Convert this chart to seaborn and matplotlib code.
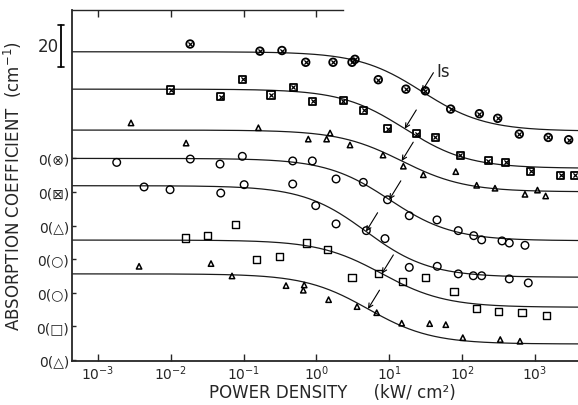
import numpy as np
import matplotlib
matplotlib.use("Agg")
import matplotlib.pyplot as plt
import matplotlib.transforms as mtransforms
from matplotlib.ticker import NullLocator
import seaborn as sns

sns.set_style("ticks")
plt.rcParams["font.family"] = ["DejaVu Sans"]

# pontos medidos, curva por curva (de cima para baixo)
# densidade de potência em kW/cm2, absorção em cm-1 (relativa ao próprio zero)
power_1 = [0.0185, 0.168, 0.337, 0.713, 1.69, 3.08, 3.38, 7.06, 16.9, 31.2, 69.5, 172, 307, 607, 1517, 2890]
alpha_1 = [54.5, 51.1, 51.4, 45.8, 45.8, 45.8, 47.2, 37.5, 33.0, 32.2, 23.5, 21.3, 19.1, 11.6, 10.0, 8.9]

power_2 = [0.0100, 0.0487, 0.0975, 0.238, 0.482, 0.889, 2.35, 4.43, 9.45, 23.8, 42.8, 94.8, 229, 396, 873, 2244, 3527]
alpha_2 = [48.6, 45.4, 53.8, 46.2, 49.9, 43.3, 43.5, 39.0, 30.1, 27.8, 26.0, 17.6, 14.9, 14.1, 9.9, 8.0, 8.0]

power_3 = [0.00286, 0.0163, 0.160, 0.774, 1.38, 1.54, 2.89, 8.20, 15.6, 29.3, 81.7, 158, 282, 727, 1079, 1397]
alpha_3 = [48.9, 39.3, 46.6, 41.2, 41.2, 44.1, 38.4, 33.6, 28.3, 24.2, 25.7, 19.2, 17.8, 14.9, 16.9, 14.1]

power_4 = [0.00182, 0.0186, 0.0476, 0.0963, 0.473, 0.879, 1.86, 4.40, 9.45, 18.8, 45.1, 88.4, 144, 185, 352, 443, 727]
alpha_4 = [46.1, 47.7, 45.3, 49.0, 46.8, 46.8, 38.2, 36.6, 28.3, 20.7, 18.7, 13.6, 11.2, 9.2, 8.7, 7.7, 6.6]

power_5 = [0.00432, 0.00982, 0.0487, 0.102, 0.473, 0.978, 1.86, 4.84, 8.73, 18.8, 45.5, 88.4, 142, 185, 443, 807]
alpha_5 = [50.4, 49.1, 47.5, 51.5, 51.8, 41.5, 32.8, 29.6, 25.8, 12.1, 12.6, 9.0, 8.1, 8.1, 6.6, 4.7]

power_6 = [0.0158, 0.0323, 0.0782, 0.152, 0.310, 0.736, 1.43, 3.08, 7.06, 15.3, 31.4, 77.2, 157, 313, 661, 1425]
alpha_6 = [42.1, 43.2, 48.4, 31.9, 33.4, 39.7, 36.7, 23.2, 25.3, 21.4, 23.3, 16.4, 8.4, 7.1, 6.5, 5.3]

power_7 = [0.00369, 0.0358, 0.0695, 0.383, 0.680, 0.661, 1.47, 3.61, 6.72, 14.8, 35.8, 59.6, 102, 333, 621]
alpha_7 = [44.6, 45.9, 40.0, 35.4, 35.7, 33.2, 28.7, 25.4, 22.5, 17.5, 17.3, 16.8, 10.6, 9.7, 8.9]

# curvas de saturação: alfa = alfa_ns + alfa_s / (1 + I/Is)
alpha_low = [50.8, 49.0, 45.5, 48.0, 51.0, 41.1, 41.0]
alpha_high = [13.0, 11.3, 16.1, 8.8, 7.4, 9.1, 7.6]
i_sat = [28.0, 16.3, 14.8, 10.0, 4.8, 7.9, 5.1]

offsets = [96, 80, 64, 48, 32, 16, 0]
zero_labels = ["0(⊗)", "0(⊠)", "0(△)", "0(○)", "0(○)", "0(□)", "0(△)"]

power = [power_1, power_2, power_3, power_4, power_5, power_6, power_7]
alpha = [alpha_1, alpha_2, alpha_3, alpha_4, alpha_5, alpha_6, alpha_7]
marker_kind = ["otimes", "boxtimes", "tri", "circ", "circ", "sq", "tri"]

fig = plt.figure(figsize=(5.78, 4.06), dpi=100)
ax = fig.add_axes([0.1246, 0.1084, 0.8754, 0.8645])
ax.set_xscale("log")
ax.set_xlim(10 ** -3.353, 10 ** 3.589)
ax.set_ylim(-0.5, 166.7)

grid = np.logspace(-3.4, 3.6, 400)
for k in range(7):
    fit = alpha_high[k] + (alpha_low[k] - alpha_high[k]) / (1 + grid / i_sat[k])
    sns.lineplot(x=grid, y=fit + offsets[k], ax=ax, color="#1a1a1a", lw=0.9,
                 estimator=None, sort=False)

    xs = power[k]
    ys = np.array(alpha[k]) + offsets[k]
    kind = marker_kind[k]
    if kind in ("otimes", "circ"):
        sns.scatterplot(x=xs, y=ys, ax=ax, marker="o", s=30, fc="none", ec="black",
                        linewidth=1.3 if kind == "otimes" else 1.0, zorder=3)
    elif kind in ("boxtimes", "sq"):
        sns.scatterplot(x=xs, y=ys, ax=ax, marker="s", s=26, fc="none", ec="black",
                        linewidth=1.3 if kind == "boxtimes" else 1.0, zorder=3)
    else:
        sns.scatterplot(x=xs, y=ys, ax=ax, marker="^", s=15, fc="none", ec="black",
                        linewidth=1.1, zorder=3)
    if kind in ("otimes", "boxtimes"):
        sns.scatterplot(x=xs, y=ys, ax=ax, marker="x", s=9, color="black",
                        linewidth=0.9, zorder=4)

    # seta em Is
    y_is = offsets[k] + alpha_high[k] + (alpha_low[k] - alpha_high[k]) / 2
    ax.annotate("", xy=(i_sat[k], y_is), xytext=(8.3, 13.5), textcoords="offset points",
                arrowprops=dict(arrowstyle="->", lw=0.8, color="black",
                                shrinkA=0, shrinkB=0, mutation_scale=8))

y_is0 = offsets[0] + (alpha_low[0] + alpha_high[0]) / 2
ax.annotate("Is", xy=(i_sat[0], y_is0), xytext=(15.6, 14.4), textcoords="offset points",
            ha="center", va="center", fontsize=12)

# barra de escala 20 cm-1
blend = mtransforms.blended_transform_factory(ax.transAxes, ax.transData)
ax.plot([-0.0217, -0.0217], [139.5, 159.5], transform=blend, color="black", lw=1.3, clip_on=False)
for yb in (139.5, 159.5):
    ax.plot([-0.028, -0.0154], [yb, yb], transform=blend, color="black", lw=1.2, clip_on=False)
ax.text(-0.047, 149.4, "20", transform=blend, ha="center", va="center", fontsize=12)

ax.set_yticks(offsets)
ax.set_yticklabels(zero_labels, fontsize=10)
ax.xaxis.set_minor_locator(NullLocator())
ax.tick_params(axis="x", direction="in", length=5, width=1, labelsize=10, pad=2)
ax.tick_params(axis="y", direction="in", length=3, width=1, pad=2)

ax.spines["right"].set_visible(False)
ax.spines["top"].set_visible(False)
for s in ("left", "bottom"):
    ax.spines[s].set_linewidth(1.3)

top = ax.secondary_xaxis("top")
top.set_xticks([1e-3, 1e-2, 1e-1, 1e0])
top.set_xticklabels([])
top.xaxis.set_minor_locator(NullLocator())
top.tick_params(direction="in", length=5, width=1)
top.spines["top"].set_bounds(10 ** -3.353, 10 ** 0.37)
top.spines["top"].set_linewidth(1.0)

ax.set_xlabel("POWER DENSITY     (kW/ cm²)", fontsize=12)
ax.xaxis.set_label_coords(0.514, -0.062)
ax.set_ylabel("ABSORPTION COEFFICIENT  (cm$^{-1}$)", fontsize=12)
ax.yaxis.set_label_coords(-0.094, 0.5)

fig.savefig("out.png", dpi=100)
